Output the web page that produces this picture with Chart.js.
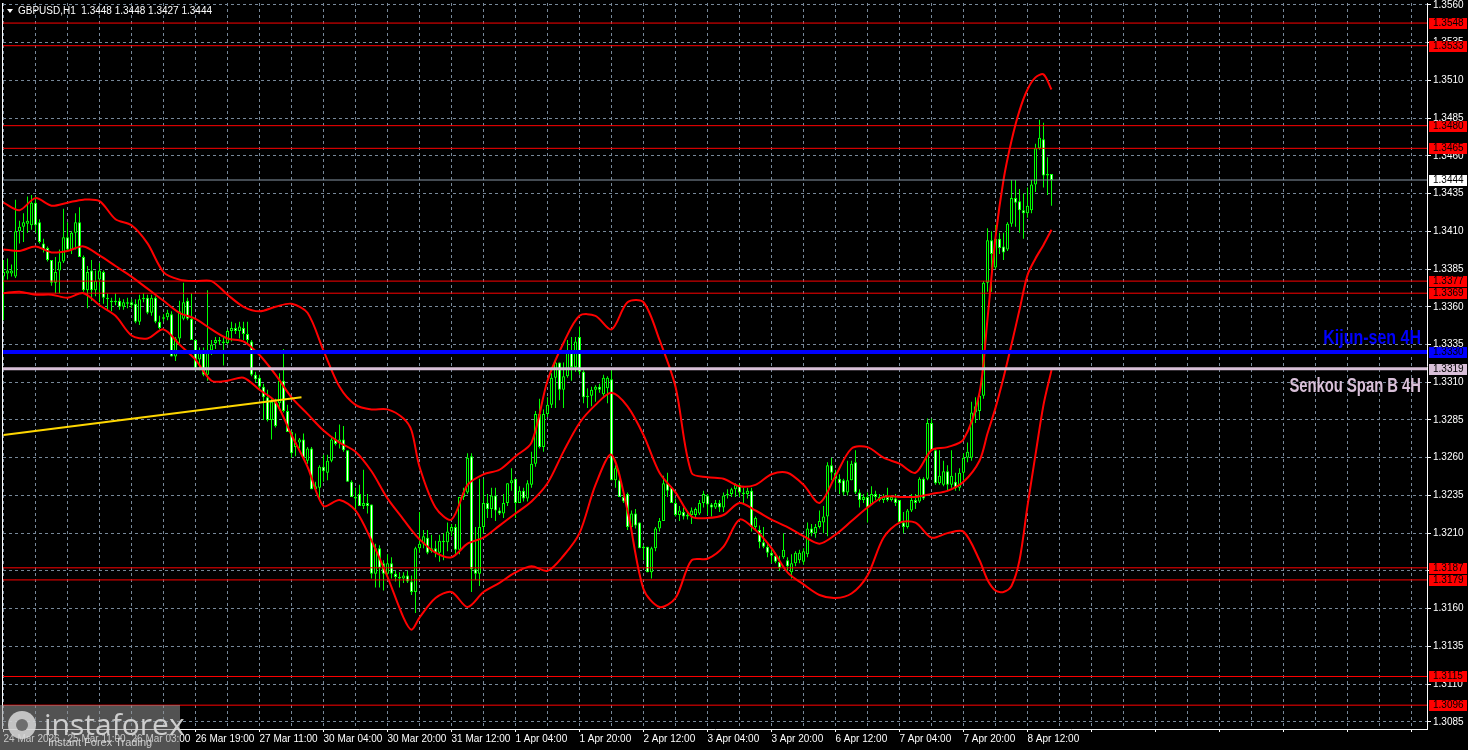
<!DOCTYPE html>
<html>
<head>
<meta charset="utf-8">
<script src="https://cdn.jsdelivr.net/npm/chart.js@4.4.1/dist/chart.umd.min.js"></script>
<style>
  html, body { margin: 0; padding: 0; background: #000; overflow: hidden; }
</style>
</head>
<body>
<canvas id="chart" width="1468" height="750"></canvas>
<script>
// GBPUSD H1 candles (bar 0 = 24 Mar 19:00)
const opens = [
  1.3380,1.3382,1.3382,1.3380,1.3410,1.3413,1.3415,1.3414,1.3429,1.3416,
  1.3402,1.3399,1.3391,1.3376,1.3384,1.3390,1.3406,1.3398,1.3409,1.3416,
  1.3393,1.3371,1.3384,1.3371,1.3378,1.3383,1.3366,1.3364,1.3363,1.3364,
  1.3360,1.3362,1.3363,1.3362,1.3350,1.3365,1.3366,1.3356,1.3366,1.3350,
  1.3353,1.3353,1.3355,1.3327,1.3339,1.3352,1.3364,1.3352,1.3338,1.3325,
  1.3331,1.3315,1.3331,1.3336,1.3338,1.3337,1.3336,1.3344,1.3346,1.3344,
  1.3346,1.3342,1.3337,1.3315,1.3313,1.3307,1.3300,1.3285,1.3297,1.3296,
  1.3311,1.3291,1.3277,1.3267,1.3270,1.3272,1.3258,1.3266,1.3239,1.3240,
  1.3254,1.3250,1.3258,1.3272,1.3270,1.3272,1.3265,1.3244,1.3234,1.3236,
  1.3228,1.3230,1.3229,1.3183,1.3200,1.3190,1.3183,1.3190,1.3183,1.3181,
  1.3180,1.3182,1.3178,1.3171,1.3200,1.3203,1.3207,1.3198,1.3200,1.3197,
  1.3205,1.3204,1.3211,1.3214,1.3199,1.3234,1.3237,1.3261,1.3186,1.3183,
  1.3214,1.3230,1.3226,1.3235,1.3225,1.3223,1.3230,1.3243,1.3246,1.3230,
  1.3238,1.3233,1.3242,1.3256,1.3289,1.3267,1.3289,1.3295,1.3313,1.3323,
  1.3305,1.3314,1.3331,1.3320,1.3340,1.3317,1.3300,1.3301,1.3305,1.3307,
  1.3302,1.3306,1.3312,1.3245,1.3245,1.3234,1.3236,1.3214,1.3223,1.3217,
  1.3200,1.3201,1.3184,1.3200,1.3213,1.3218,1.3243,1.3240,1.3230,1.3222,
  1.3224,1.3221,1.3222,1.3222,1.3223,1.3230,1.3235,1.3229,1.3227,1.3230,
  1.3227,1.3235,1.3236,1.3239,1.3242,1.3237,1.3236,1.3238,1.3214,1.3212,
  1.3204,1.3201,1.3197,1.3195,1.3191,1.3194,1.3192,1.3184,1.3190,1.3192,
  1.3191,1.3196,1.3213,1.3210,1.3214,1.3217,1.3221,1.3255,1.3250,1.3246,
  1.3245,1.3237,1.3245,1.3257,1.3237,1.3232,1.3234,1.3229,1.3236,1.3234,
  1.3232,1.3234,1.3232,1.3233,1.3232,1.3217,1.3214,1.3225,1.3232,1.3231,
  1.3246,1.3246,1.3283,1.3265,1.3243,1.3242,1.3251,1.3242,1.3244,1.3240,
  1.3250,1.3260,1.3260,1.3290,1.3291,1.3301,1.3376,1.3404,1.3386,1.3405,
  1.3400,1.3398,1.3415,1.3432,1.3430,1.3424,1.3422,1.3424,1.3441,1.3465,
  1.3471,1.3447,1.3448
];
const highs = [
  1.3391,1.3392,1.3388,1.3431,1.3417,1.3422,1.3433,1.3434,1.3433,1.3418,
  1.3405,1.3400,1.3391,1.3393,1.3398,1.3425,1.3416,1.3410,1.3422,1.3426,
  1.3394,1.3387,1.3391,1.3384,1.3389,1.3384,1.3369,1.3366,1.3369,1.3366,
  1.3365,1.3366,1.3365,1.3365,1.3368,1.3369,1.3368,1.3368,1.3367,1.3354,
  1.3355,1.3358,1.3357,1.3340,1.3364,1.3376,1.3366,1.3369,1.3338,1.3333,
  1.3333,1.3371,1.3338,1.3340,1.3340,1.3340,1.3345,1.3350,1.3349,1.3350,
  1.3350,1.3350,1.3338,1.3317,1.3315,1.3309,1.3305,1.3299,1.3299,1.3316,
  1.3332,1.3295,1.3278,1.3276,1.3273,1.3276,1.3267,1.3267,1.3244,1.3255,
  1.3262,1.3262,1.3273,1.3277,1.3282,1.3281,1.3265,1.3245,1.3240,1.3242,
  1.3252,1.3236,1.3229,1.3203,1.3202,1.3192,1.3196,1.3194,1.3185,1.3184,
  1.3184,1.3185,1.3182,1.3201,1.3224,1.3212,1.3212,1.3209,1.3205,1.3209,
  1.3210,1.3217,1.3216,1.3216,1.3234,1.3240,1.3263,1.3263,1.3214,1.3246,
  1.3246,1.3236,1.3240,1.3240,1.3227,1.3236,1.3243,1.3253,1.3246,1.3241,
  1.3240,1.3245,1.3264,1.3291,1.3299,1.3292,1.3300,1.3316,1.3324,1.3323,
  1.3323,1.3338,1.3340,1.3340,1.3347,1.3318,1.3306,1.3307,1.3308,1.3309,
  1.3315,1.3314,1.3318,1.3255,1.3248,1.3237,1.3237,1.3225,1.3226,1.3217,
  1.3202,1.3201,1.3201,1.3214,1.3220,1.3248,1.3250,1.3240,1.3233,1.3228,
  1.3227,1.3224,1.3227,1.3227,1.3232,1.3238,1.3236,1.3230,1.3232,1.3232,
  1.3237,1.3239,1.3240,1.3243,1.3243,1.3240,1.3240,1.3240,1.3221,1.3215,
  1.3214,1.3203,1.3200,1.3197,1.3195,1.3210,1.3194,1.3196,1.3198,1.3199,
  1.3200,1.3217,1.3216,1.3216,1.3225,1.3228,1.3257,1.3260,1.3252,1.3249,
  1.3246,1.3258,1.3258,1.3265,1.3239,1.3236,1.3237,1.3241,1.3238,1.3236,
  1.3236,1.3240,1.3235,1.3236,1.3232,1.3224,1.3226,1.3236,1.3236,1.3247,
  1.3247,1.3286,1.3286,1.3266,1.3265,1.3258,1.3255,1.3265,1.3250,1.3253,
  1.3263,1.3270,1.3297,1.3300,1.3304,1.3377,1.3412,1.3410,1.3414,1.3409,
  1.3409,1.3416,1.3444,1.3444,1.3438,1.3435,1.3439,1.3444,1.3468,1.3484,
  1.3482,1.3459,1.3448
];
const lows = [
  1.3351,1.3378,1.3380,1.3379,1.3402,1.3403,1.3409,1.3411,1.3409,1.3402,
  1.3396,1.3390,1.3374,1.3369,1.3369,1.3389,1.3397,1.3395,1.3398,1.3393,
  1.3370,1.3359,1.3364,1.3367,1.3363,1.3362,1.3358,1.3357,1.3361,1.3358,
  1.3358,1.3359,1.3359,1.3349,1.3348,1.3363,1.3355,1.3354,1.3349,1.3345,
  1.3350,1.3351,1.3327,1.3324,1.3336,1.3351,1.3351,1.3338,1.3318,1.3318,
  1.3314,1.3311,1.3328,1.3332,1.3335,1.3321,1.3335,1.3337,1.3342,1.3339,
  1.3338,1.3336,1.3314,1.3310,1.3305,1.3285,1.3284,1.3272,1.3280,1.3291,
  1.3290,1.3277,1.3260,1.3261,1.3266,1.3260,1.3256,1.3239,1.3238,1.3233,
  1.3244,1.3245,1.3257,1.3268,1.3266,1.3264,1.3244,1.3234,1.3224,1.3228,
  1.3226,1.3223,1.3180,1.3174,1.3174,1.3172,1.3180,1.3180,1.3178,1.3174,
  1.3177,1.3177,1.3169,1.3157,1.3197,1.3200,1.3196,1.3197,1.3194,1.3191,
  1.3192,1.3198,1.3208,1.3196,1.3196,1.3232,1.3236,1.3171,1.3179,1.3175,
  1.3210,1.3220,1.3220,1.3218,1.3222,1.3220,1.3228,1.3238,1.3220,1.3230,
  1.3231,1.3231,1.3240,1.3254,1.3266,1.3264,1.3287,1.3293,1.3293,1.3298,
  1.3293,1.3313,1.3311,1.3317,1.3315,1.3296,1.3293,1.3294,1.3297,1.3303,
  1.3301,1.3296,1.3245,1.3240,1.3234,1.3230,1.3212,1.3210,1.3213,1.3200,
  1.3192,1.3184,1.3180,1.3198,1.3211,1.3218,1.3234,1.3230,1.3221,1.3218,
  1.3219,1.3219,1.3216,1.3220,1.3222,1.3227,1.3222,1.3221,1.3226,1.3224,
  1.3224,1.3233,1.3234,1.3234,1.3234,1.3230,1.3233,1.3211,1.3212,1.3200,
  1.3200,1.3194,1.3190,1.3190,1.3185,1.3193,1.3185,1.3180,1.3188,1.3190,
  1.3189,1.3194,1.3208,1.3207,1.3213,1.3210,1.3208,1.3245,1.3239,1.3236,
  1.3235,1.3235,1.3245,1.3236,1.3227,1.3230,1.3217,1.3229,1.3232,1.3231,
  1.3230,1.3231,1.3231,1.3228,1.3216,1.3210,1.3213,1.3224,1.3226,1.3230,
  1.3232,1.3245,1.3265,1.3242,1.3242,1.3241,1.3238,1.3240,1.3238,1.3238,
  1.3245,1.3257,1.3258,1.3283,1.3285,1.3299,1.3370,1.3370,1.3385,1.3395,
  1.3391,1.3397,1.3413,1.3413,1.3409,1.3405,1.3419,1.3422,1.3436,1.3464,
  1.3439,1.3434,1.3427
];
const closes = [
  1.3383,1.3384,1.3384,1.3410,1.3413,1.3416,1.3417,1.3429,1.3414,1.3403,
  1.3398,1.3391,1.3376,1.3383,1.3390,1.3406,1.3398,1.3409,1.3416,1.3393,
  1.3371,1.3383,1.3371,1.3377,1.3384,1.3366,1.3365,1.3363,1.3364,1.3360,
  1.3363,1.3363,1.3361,1.3350,1.3365,1.3366,1.3356,1.3366,1.3350,1.3346,
  1.3352,1.3356,1.3327,1.3339,1.3357,1.3363,1.3352,1.3338,1.3319,1.3331,
  1.3315,1.3331,1.3335,1.3338,1.3337,1.3336,1.3344,1.3346,1.3344,1.3347,
  1.3342,1.3338,1.3315,1.3312,1.3307,1.3300,1.3285,1.3297,1.3281,1.3311,
  1.3291,1.3277,1.3263,1.3270,1.3272,1.3260,1.3266,1.3239,1.3241,1.3254,
  1.3251,1.3258,1.3272,1.3269,1.3272,1.3265,1.3244,1.3234,1.3233,1.3228,
  1.3230,1.3228,1.3183,1.3200,1.3187,1.3183,1.3190,1.3183,1.3181,1.3180,
  1.3182,1.3178,1.3171,1.3200,1.3203,1.3208,1.3197,1.3200,1.3197,1.3205,
  1.3204,1.3211,1.3214,1.3199,1.3234,1.3237,1.3260,1.3186,1.3183,1.3214,
  1.3230,1.3226,1.3235,1.3225,1.3223,1.3230,1.3243,1.3245,1.3230,1.3238,
  1.3233,1.3243,1.3256,1.3289,1.3267,1.3289,1.3295,1.3313,1.3323,1.3305,
  1.3314,1.3331,1.3320,1.3337,1.3317,1.3300,1.3301,1.3305,1.3307,1.3305,
  1.3313,1.3313,1.3245,1.3253,1.3234,1.3231,1.3214,1.3223,1.3215,1.3200,
  1.3201,1.3184,1.3200,1.3213,1.3218,1.3243,1.3238,1.3230,1.3222,1.3225,
  1.3221,1.3222,1.3225,1.3226,1.3230,1.3236,1.3229,1.3227,1.3230,1.3227,
  1.3235,1.3236,1.3239,1.3242,1.3237,1.3236,1.3238,1.3214,1.3220,1.3204,
  1.3201,1.3197,1.3195,1.3191,1.3187,1.3199,1.3188,1.3190,1.3197,1.3197,
  1.3198,1.3213,1.3210,1.3214,1.3218,1.3221,1.3255,1.3250,1.3246,1.3243,
  1.3237,1.3245,1.3256,1.3237,1.3232,1.3234,1.3227,1.3236,1.3234,1.3232,
  1.3234,1.3232,1.3234,1.3230,1.3217,1.3214,1.3225,1.3232,1.3230,1.3246,
  1.3233,1.3283,1.3265,1.3243,1.3248,1.3251,1.3242,1.3248,1.3240,1.3250,
  1.3260,1.3264,1.3290,1.3294,1.3301,1.3376,1.3404,1.3395,1.3405,1.3399,
  1.3396,1.3415,1.3432,1.3429,1.3424,1.3422,1.3427,1.3441,1.3465,1.3472,
  1.3447,1.3448,1.3444
];

// Bollinger bands at these bar numbers
const bandBars = [0,4,8,12,16,20,24,28,32,36,40,44,48,52,56,60,64,68,72,76,80,84,88,92,96,100,102,
  104,108,112,116,120,124,128,132,136,140,144,148,152,156,160,164,168,172,176,180,184,188,192,196,200,
  204,208,212,216,220,224,228,232,236,240,244,246,248,250,252,254,256,258,260,262];
const bandUpper = [1.3429,1.3424,1.3432,1.3427,1.3429,1.3431,1.3430,1.3418,1.3414,1.3402,1.3383,1.3378,
  1.3377,1.3377,1.3368,1.3360,1.3357,1.3360,1.3362,1.3356,1.3331,1.3307,1.3295,1.3292,1.3292,1.3286,1.3278,
  1.3254,1.3227,1.3219,1.3242,1.3249,1.3252,1.3261,1.3270,1.3311,1.3336,1.3354,1.3354,1.3345,1.3363,1.3363,
  1.3338,1.3307,1.3250,1.3247,1.3246,1.3241,1.3242,1.3249,1.3250,1.3242,1.3230,1.3248,1.3266,1.3267,1.3260,
  1.3256,1.3250,1.3265,1.3267,1.3272,1.3303,1.3352,1.3406,1.3444,1.3470,1.3490,1.3504,1.3512,1.3514,1.3504];
const bandMiddle = [1.3398,1.3397,1.3400,1.3396,1.3397,1.3400,1.3394,1.3387,1.3380,1.3372,1.3364,1.3356,
  1.3352,1.3345,1.3339,1.3337,1.3328,1.3315,1.3300,1.3289,1.3278,1.3270,1.3264,1.3251,1.3233,1.3219,1.3212,
  1.3206,1.3197,1.3194,1.3203,1.3207,1.3215,1.3223,1.3231,1.3243,1.3264,1.3283,1.3295,1.3303,1.3294,1.3275,
  1.3250,1.3237,1.3221,1.3220,1.3222,1.3230,1.3225,1.3219,1.3214,1.3208,1.3203,1.3209,1.3218,1.3227,1.3234,
  1.3234,1.3234,1.3236,1.3238,1.3244,1.3258,1.3276,1.3293,1.3313,1.3335,1.3358,1.3381,1.3392,1.3401,1.3411];
const bandLower = [1.3369,1.3370,1.3368,1.3368,1.3366,1.3369,1.3361,1.3354,1.3341,1.3339,1.3345,1.3335,
  1.3325,1.3311,1.3311,1.3313,1.3305,1.3297,1.3275,1.3254,1.3228,1.3232,1.3225,1.3205,1.3181,1.3154,1.3146,
  1.3154,1.3167,1.3171,1.3161,1.3171,1.3177,1.3184,1.3188,1.3185,1.3195,1.3210,1.3242,1.3262,1.3225,1.3173,
  1.3161,1.3167,1.3192,1.3193,1.3201,1.3219,1.3212,1.3200,1.3184,1.3176,1.3169,1.3167,1.3170,1.3182,1.3207,
  1.3217,1.3217,1.3207,1.3210,1.3211,1.3192,1.3179,1.3172,1.3171,1.3175,1.3192,1.3228,1.3262,1.3295,1.3318];

// drawn objects
const redLevels = [1.3548, 1.3533, 1.3480, 1.3465, 1.3377, 1.3369, 1.3187, 1.3179, 1.3115, 1.3096];
const kijunLevel = 1.3330;
const senkouBLevel = 1.3319;
const bidLevel = 1.3444;
const trendBars = [0, 74.5];
const trendPrices = [1.3275, 1.3300];

// axes
const priceTicks = [1.3085,1.3110,1.3135,1.3160,1.3185,1.3210,1.3235,1.3260,1.3285,1.3310,
  1.3335,1.3360,1.3385,1.3410,1.3435,1.3460,1.3485,1.3510,1.3535,1.3560];
const timeLabels = ['24 Mar 2026','25 Mar 11:00','26 Mar 03:00','26 Mar 19:00','27 Mar 11:00',
  '30 Mar 04:00','30 Mar 20:00','31 Mar 12:00','1 Apr 04:00','1 Apr 20:00','2 Apr 12:00',
  '3 Apr 04:00','3 Apr 20:00','6 Apr 12:00','7 Apr 04:00','7 Apr 20:00','8 Apr 12:00'];
const symbolName = 'GBPUSD,H1';

const LABEL_EVERY = 16;   // bars between time labels
const GRID_EVERY = 8;     // bars between vertical grid lines
const X_MIN = -0.125, X_MAX = 355.875;
const Y_MIN = 1.30802, Y_MAX = 1.35613;
const GRID = '#778899';
const LIME = '#00ff00';
const AXIS_FONT = '"Liberation Sans", Arial, sans-serif';
const AXIS_SIZE = 10;

const gridBars = [];
for (let b = 0; b <= X_MAX; b += GRID_EVERY) gridBars.push(b);

const wickData = opens.map((o, i) => ({ x: i, y: [Math.min(lows[i], o, closes[i]), Math.max(highs[i], o, closes[i])] }));
const bodyData = opens.map((o, i) => ({ x: i, y: [o, closes[i]] }));
const bodyFill = opens.map((o, i) => closes[i] >= o ? '#000000' : '#ffffff');

function bandSeries(values) {
  return bandBars.map((b, i) => ({ x: b, y: values[i] }));
}
function flatLine(level) {
  return [{ x: X_MIN, y: level }, { x: X_MAX, y: level }];
}

const datasets = [];
// objects on top (lowest order is drawn last)
redLevels.forEach(v => datasets.push({
  type: 'line', data: flatLine(v), borderColor: '#ff0000', borderWidth: 1,
  pointRadius: 0, order: 1
}));
datasets.push({ type: 'line', data: flatLine(kijunLevel), borderColor: '#0000ff', borderWidth: 4, pointRadius: 0, order: 1 });
datasets.push({ type: 'line', data: flatLine(senkouBLevel), borderColor: '#d8bfd8', borderWidth: 3, pointRadius: 0, order: 1 });
datasets.push({ type: 'line', data: flatLine(bidLevel), borderColor: '#8796a5', borderWidth: 1, pointRadius: 0, order: 1 });
datasets.push({
  type: 'line', data: trendBars.map((b, i) => ({ x: b, y: trendPrices[i] })),
  borderColor: '#ffd700', borderWidth: 2, pointRadius: 0, order: 1
});
[bandUpper, bandMiddle, bandLower].forEach(vals => datasets.push({
  type: 'line', data: bandSeries(vals), borderColor: '#ff0000', borderWidth: 2,
  pointRadius: 0, tension: 0.3, order: 2
}));
datasets.push({
  type: 'bar', data: bodyData, backgroundColor: bodyFill, borderColor: LIME, borderWidth: 1,
  borderSkipped: false, barThickness: 3, minBarLength: 1, grouped: false, inflateAmount: 0, order: 3
});
datasets.push({
  type: 'bar', data: wickData, backgroundColor: LIME, borderWidth: 0,
  barThickness: 1, grouped: false, inflateAmount: 0, order: 4
});

// narrow bold caption, right aligned at x
function caption(ctx, text, x, y, color, squeeze) {
  ctx.save();
  ctx.font = 'bold 20px "Liberation Sans", Arial, sans-serif';
  ctx.textAlign = 'right';
  ctx.textBaseline = 'alphabetic';
  ctx.fillStyle = color;
  ctx.translate(x, y);
  ctx.scale(squeeze, 1);
  ctx.fillText(text, 0, 0);
  ctx.restore();
}

const mt4Decor = {
  id: 'mt4Decor',
  beforeDraw(chart) {
    const ctx = chart.ctx;
    ctx.save();
    ctx.fillStyle = '#000';
    ctx.fillRect(0, 0, chart.width, chart.height);
    ctx.restore();
  },
  afterDraw(chart) {
    const { ctx, chartArea: a } = chart;
    const y = chart.scales.y;
    ctx.save();

    // left frame line
    ctx.fillStyle = '#ffffff';
    ctx.fillRect(a.left - 1, a.top, 1, a.bottom - a.top);

    // indicator captions
    caption(ctx, 'Kijun-sen 4H', a.right - 6, y.getPixelForValue(kijunLevel) - 8, '#0000ff', 0.8);
    caption(ctx, 'Senkou Span B 4H', a.right - 6, y.getPixelForValue(senkouBLevel) + 23, '#d8bfd8', 0.74);

    // price boxes on the right scale
    const boxes = redLevels.map(v => [v, '#ff0000', '#000000'])
      .concat([[kijunLevel, '#0000ff', '#000000'], [senkouBLevel, '#d8bfd8', '#000000'], [bidLevel, '#ffffff', '#000000']]);
    ctx.font = AXIS_SIZE + 'px ' + AXIS_FONT;
    ctx.textAlign = 'left';
    ctx.textBaseline = 'middle';
    boxes.forEach(([v, bg, fg]) => {
      const py = Math.round(y.getPixelForValue(v));
      ctx.fillStyle = bg;
      ctx.fillRect(a.right + 2, py - 5, 38, 11);
      ctx.fillStyle = fg;
      ctx.fillText(v.toFixed(4), a.right + 6, py + 0.5);
    });

    // header
    const n = opens.length - 1;
    ctx.fillStyle = '#ffffff';
    ctx.beginPath();
    ctx.moveTo(7, 9); ctx.lineTo(13, 9); ctx.lineTo(10, 13); ctx.closePath();
    ctx.fill();
    ctx.textAlign = 'left';
    ctx.fillText(symbolName + '  ' + [opens[n], highs[n], lows[n], closes[n]].map(v => v.toFixed(4)).join(' '), 18, 11);

    // broker watermark
    ctx.fillStyle = 'rgba(150,150,150,0.55)';
    ctx.fillRect(0, 705, 180, 45);
    ctx.fillStyle = 'rgba(215,215,215,0.85)';
    ctx.beginPath();
    ctx.arc(22, 725, 14, 0, Math.PI * 2);
    ctx.fill();
    ctx.fillStyle = 'rgba(110,110,110,1)';
    ctx.beginPath();
    ctx.arc(22, 725, 6, 0, Math.PI * 2);
    ctx.fill();
    ctx.fillStyle = 'rgba(220,220,220,0.9)';
    ctx.font = '30px "Open Sans", "Liberation Sans", sans-serif';
    ctx.textBaseline = 'alphabetic';
    ctx.fillText('instaforex', 44, 735);
    ctx.font = '11px "Liberation Sans", sans-serif';
    ctx.fillText('Instant Forex Trading', 48, 746);

    ctx.restore();
  }
};

new Chart(document.getElementById('chart'), {
  type: 'bar',
  data: { datasets },
  options: {
    responsive: false,
    animation: false,
    devicePixelRatio: 1,
    layout: { padding: { left: 3, top: 3, right: 0, bottom: 0 } },
    plugins: { legend: { display: false }, tooltip: { enabled: false } },
    scales: {
      x: {
        type: 'linear', position: 'bottom', min: X_MIN, max: X_MAX, bounds: 'data', offset: false,
        afterBuildTicks: s => { s.ticks = gridBars.map(v => ({ value: v })); },
        afterFit: s => { s.height = 21; s.paddingLeft = 0; s.paddingRight = 0; },
        grid: {
          offset: false, color: GRID, lineWidth: 1, drawTicks: true, tickLength: 3,
          tickColor: c => (c.tick && c.tick.value % LABEL_EVERY === 0) ? '#ffffff' : 'rgba(0,0,0,0)',
          tickBorderDash: []
        },
        border: { display: true, color: '#ffffff', width: 1, dash: [3, 3] },
        ticks: {
          autoSkip: false, maxRotation: 0, minRotation: 0, align: 'start', padding: 1,
          color: '#ffffff', font: { family: AXIS_FONT, size: AXIS_SIZE },
          callback: v => v % LABEL_EVERY === 0 ? (timeLabels[v / LABEL_EVERY] || '') : ''
        }
      },
      y: {
        type: 'linear', position: 'right', min: Y_MIN, max: Y_MAX, bounds: 'data', beginAtZero: false,
        afterBuildTicks: s => { s.ticks = priceTicks.map(v => ({ value: v })); },
        afterFit: s => { s.width = 41; s.paddingTop = 0; s.paddingBottom = 0; },
        grid: { color: GRID, lineWidth: 1, drawTicks: true, tickLength: 4, tickColor: '#ffffff', tickBorderDash: [] },
        border: { display: true, color: '#ffffff', width: 1, dash: [3, 3] },
        ticks: {
          autoSkip: false, padding: 2, color: '#ffffff', font: { family: AXIS_FONT, size: AXIS_SIZE },
          callback: v => Number(v).toFixed(4)
        }
      }
    }
  },
  plugins: [mt4Decor]
});
</script>
</body>
</html>
